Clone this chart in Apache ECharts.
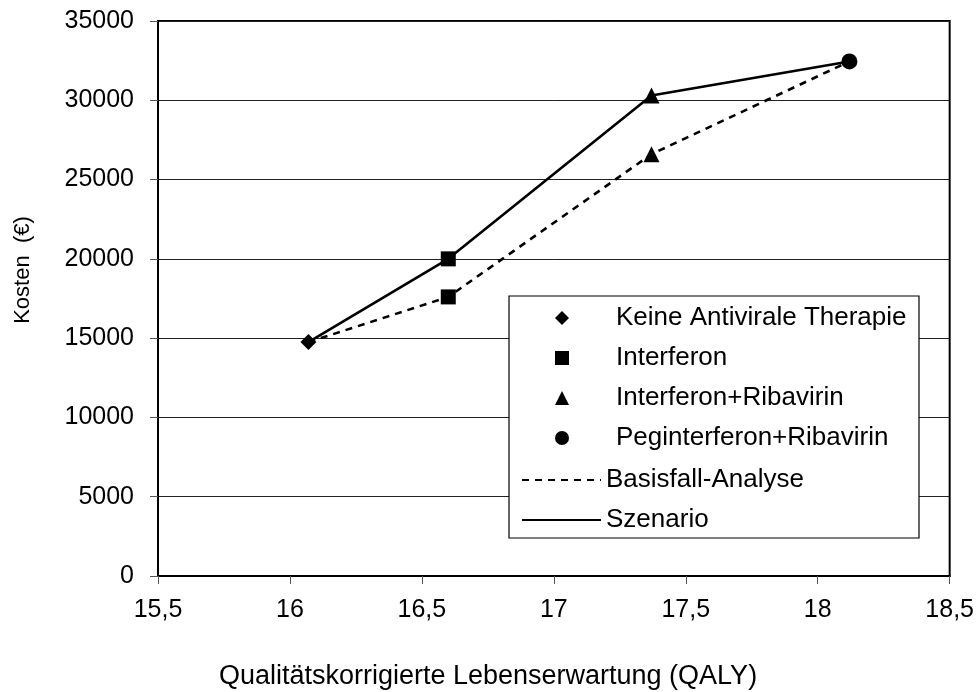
<!DOCTYPE html>
<html>
<head>
<meta charset="utf-8">
<script src="https://cdn.jsdelivr.net/npm/echarts@6/dist/echarts.min.js"></script>
<style>html,body{margin:0;padding:0;background:#fff}#c{width:977px;height:692px}</style>
</head>
<body>
<div id="c"></div>
<script>
// Data
const qaly = [16.07, 16.60, 17.37, 18.12];
const treatments = ['Keine Antivirale Therapie', 'Interferon', 'Interferon+Ribavirin', 'Peginterferon+Ribavirin'];
const symbols = ['diamond', 'rect', 'triangle', 'circle'];
const symbolSizes = [16, 15, 16, 16];
const costBase = [14750, 17600, 26600, 32450];
const costScenario = [14750, 20000, 30300, 32450];
const lineNames = ['Basisfall-Analyse', 'Szenario'];
const xTitle = 'Qualitätskorrigierte Lebenserwartung (QALY)';
const yTitle = 'Kosten  (€)';

const FONT = "'Liberation Sans', Arial, sans-serif";

const series = [];
series.push({
  name: lineNames[0], type: 'line', symbol: 'none', z: 2,
  itemStyle: { color: '#000' },
  data: qaly.map((x, i) => [x, costBase[i]]),
  lineStyle: { color: '#000', width: 2.6, type: [7, 6] }
});
series.push({
  name: lineNames[1], type: 'line', symbol: 'none', z: 2,
  itemStyle: { color: '#000' },
  data: qaly.map((x, i) => [x, costScenario[i]]),
  lineStyle: { color: '#000', width: 2.6, type: 'solid' }
});
treatments.forEach((t, i) => {
  const pts = [[qaly[i], costBase[i]]];
  if (costScenario[i] !== costBase[i]) pts.push([qaly[i], costScenario[i]]);
  series.push({
    name: t, type: 'scatter', symbol: symbols[i], symbolSize: symbolSizes[i], z: 2.5,
    itemStyle: { color: '#000', opacity: 1 }, data: pts
  });
});

const chart = echarts.init(document.getElementById('c'));
chart.setOption({
  animation: false,
  backgroundColor: '#fff',
  grid: { left: 158, right: 27, top: 21, bottom: 116, show: true, borderColor: '#000', borderWidth: 2, containLabel: false },
  xAxis: {
    type: 'value', min: 15.5, max: 18.5, interval: 0.5,
    axisLine: { show: true, onZero: false, lineStyle: { color: '#000', width: 2 } },
    axisTick: { show: true, inside: false, length: 8, lineStyle: { color: '#555', width: 1 } },
    axisLabel: { color: '#000', fontSize: 25, fontFamily: FONT, margin: 22,
      formatter: v => String(v).replace('.', ',') },
    splitLine: { show: false }
  },
  yAxis: {
    type: 'value', min: 0, max: 35000, interval: 5000,
    axisLine: { show: true, lineStyle: { color: '#000', width: 2 } },
    axisTick: { show: true, inside: false, length: 8, lineStyle: { color: '#555', width: 1 } },
    axisLabel: { color: '#000', fontSize: 25, fontFamily: FONT, margin: 24, formatter: v => String(v) },
    splitLine: { show: true, lineStyle: { color: '#222', width: 1 } }
  },
  legend: [
    {
      data: treatments, orient: 'vertical', left: 555, top: 305, padding: 0,
      itemWidth: 14, itemHeight: 14, itemGap: 14, selectedMode: false,
      textStyle: { color: '#000', fontSize: 26, fontFamily: FONT, padding: [0, 0, 0, 42] }
    },
    {
      data: lineNames, orient: 'vertical', left: 521, top: 467, padding: 0,
      itemWidth: 79, itemHeight: 14, itemGap: 14, selectedMode: false,
      itemStyle: { color: 'rgba(0,0,0,0)', opacity: 0, borderWidth: 0 },
      textStyle: { color: '#000', fontSize: 26, fontFamily: FONT }
    }
  ],
  graphic: [
    { type: 'rect', z: 3, shape: { x: 509, y: 296, width: 410, height: 242 },
      style: { fill: '#fff', stroke: '#000', lineWidth: 1.2 } },
    { type: 'text', x: 488, y: 677, z: 5,
      style: { text: xTitle, fill: '#000', fontSize: 27, fontFamily: FONT, align: 'center', verticalAlign: 'middle' } },
    { type: 'text', x: 23, y: 270, rotation: Math.PI / 2, z: 5,
      style: { text: yTitle, fill: '#000', fontSize: 22, fontFamily: FONT, align: 'center', verticalAlign: 'middle' } }
  ],
  series: series
});
</script>
</body>
</html>
